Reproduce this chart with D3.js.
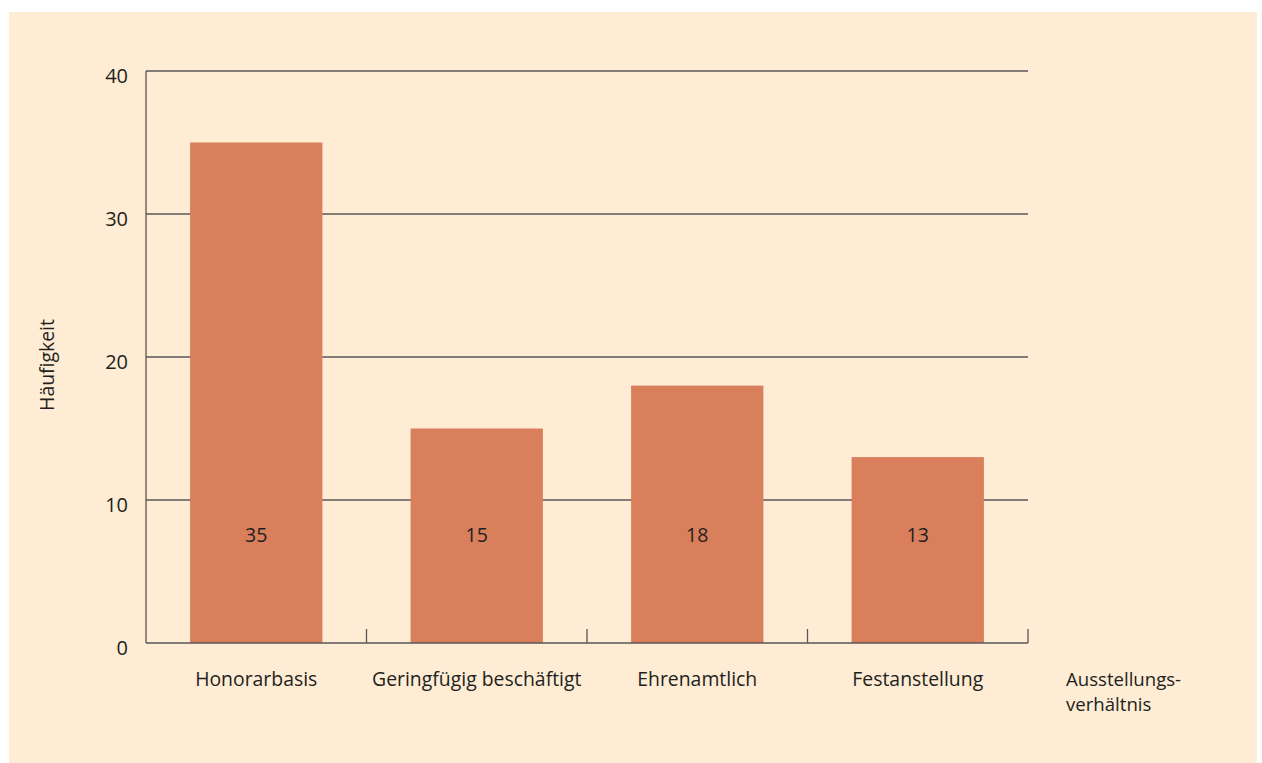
<!DOCTYPE html>
<html><head><meta charset="utf-8">
<script src="https://cdn.jsdelivr.net/npm/d3@7"></script>
<style>html,body{margin:0;padding:0;background:#fff;}svg{display:block;}</style>
</head><body>
<svg id="c" width="1262" height="763"></svg>
<script>
const categories = ["Honorarbasis", "Geringfügig beschäftigt", "Ehrenamtlich", "Festanstellung"];
const values = [35, 15, 18, 13];
const yTicks = [0, 10, 20, 30, 40];
const yLabel = "Häufigkeit";
const xLabelLines = ["Ausstellungs-", "verhältnis"];

const svg = d3.select("#c");
const font = "'Open Sans', 'Noto Sans', sans-serif";
const textCol = "#231f20";
const lineCol = "#5a5656";

svg.append("rect").attr("x", 9).attr("y", 12).attr("width", 1248).attr("height", 751).attr("fill", "#feecd4");

const x0 = 146, x1 = 1028, yTop = 71, yBot = 643;
const x = d3.scaleBand().domain(categories).range([x0, x1]).padding(0);
const y = d3.scaleLinear().domain([0, 40]).range([yBot, yTop]);

// gridlines
svg.append("g").selectAll("line").data(yTicks.filter(d => d > 0)).join("line")
  .attr("x1", x0).attr("x2", x1).attr("y1", d => y(d)).attr("y2", d => y(d))
  .attr("stroke", lineCol).attr("stroke-width", 1.3);

// bars
const bw = x.bandwidth() * 0.6;
svg.append("g").selectAll("rect").data(categories).join("rect")
  .attr("x", d => x(d) + (x.bandwidth() - bw) / 2)
  .attr("width", bw)
  .attr("y", (d, i) => y(values[i]))
  .attr("height", (d, i) => y(0) - y(values[i]))
  .attr("fill", "#d97f5c");

// axes lines
svg.append("line").attr("x1", x0).attr("x2", x0).attr("y1", yTop).attr("y2", yBot)
  .attr("stroke", lineCol).attr("stroke-width", 1.3);
svg.append("line").attr("x1", x0).attr("x2", x1).attr("y1", yBot).attr("y2", yBot)
  .attr("stroke", lineCol).attr("stroke-width", 1.3);
// x ticks at band boundaries (upward)
const bounds = categories.map(d => x(d) + x.bandwidth());
svg.append("g").selectAll("line").data(bounds).join("line")
  .attr("x1", d => d).attr("x2", d => d).attr("y1", yBot).attr("y2", yBot - 14)
  .attr("stroke", lineCol).attr("stroke-width", 1.3);

// y tick labels
svg.append("g").selectAll("text").data(yTicks).join("text")
  .attr("x", 128).attr("y", d => y(d) + 12)
  .attr("text-anchor", "end").attr("font-family", font).attr("font-size", 20)
  .attr("fill", textCol).text(d => d);

// value labels
svg.append("g").selectAll("text").data(categories).join("text")
  .attr("x", d => x(d) + x.bandwidth() / 2).attr("y", 542)
  .attr("text-anchor", "middle").attr("font-family", font).attr("font-size", 19.5)
  .attr("fill", textCol).text((d, i) => values[i]);

// category labels
svg.append("g").selectAll("text").data(categories).join("text")
  .attr("x", d => x(d) + x.bandwidth() / 2).attr("y", 686)
  .attr("text-anchor", "middle").attr("font-family", font).attr("font-size", 19.4)
  .attr("fill", textCol).text(d => d);

// x title (two separate lines)
svg.append("g").selectAll("text").data(xLabelLines).join("text")
  .attr("font-family", font).attr("font-size", 18.6).attr("fill", textCol)
  .attr("x", 1066).attr("y", (d, i) => 686 + i * 25).text(d => d);

// y title
svg.append("text").attr("transform", "translate(54,365) rotate(-90)")
  .attr("text-anchor", "middle").attr("font-family", font).attr("font-size", 19.4)
  .attr("fill", textCol).text(yLabel);
</script>
</body></html>
